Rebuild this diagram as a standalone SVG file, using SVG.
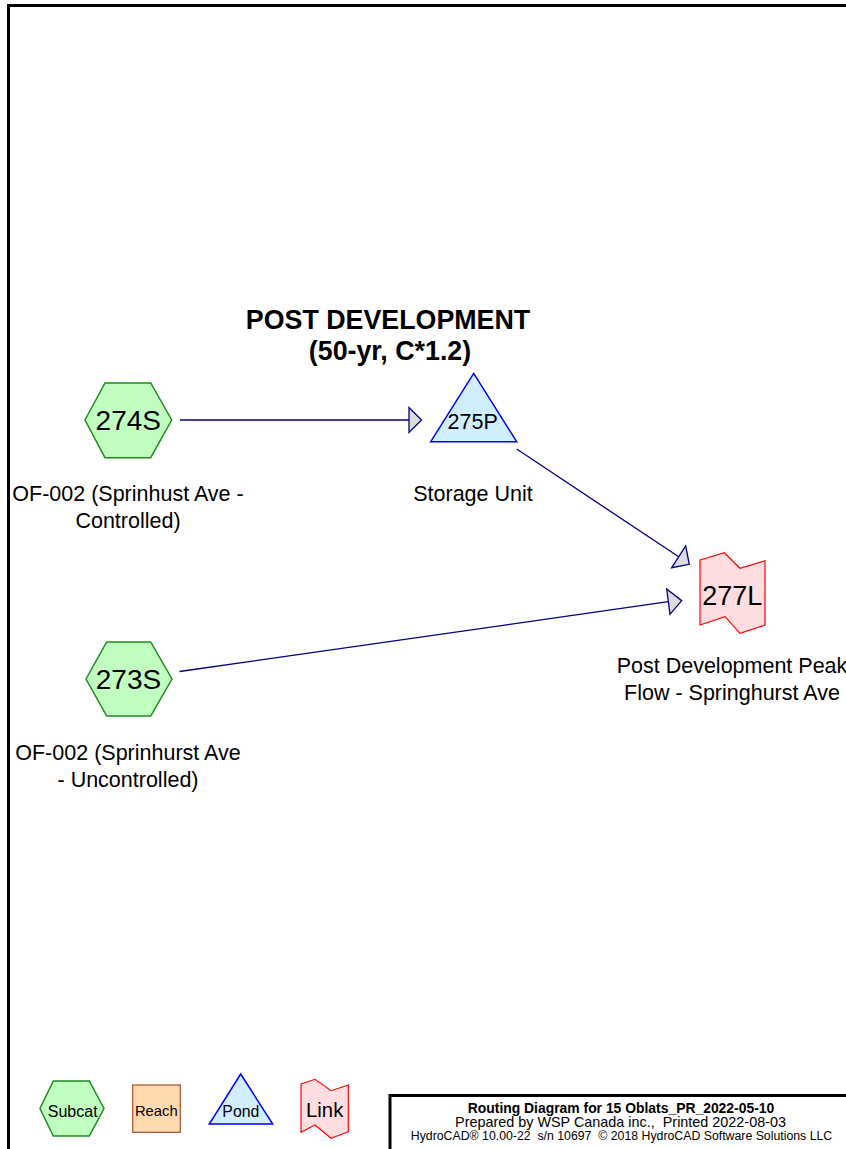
<svg xmlns="http://www.w3.org/2000/svg" width="846" height="1149" viewBox="0 0 846 1149">
<style>
.lbl{font-family:"Liberation Sans",Arial,sans-serif;fill:#000;text-anchor:middle}
.sub{fill:#c0ffc0;stroke:#1c8c1c;stroke-width:1.5}
.pond{fill:#d0eeff;stroke:#0000ff;stroke-width:1.5}
.link{fill:#ffdde0;stroke:#ff0000;stroke-width:1.2}
.reach{fill:#ffd9b0;stroke:#a0522d;stroke-width:1.2}
.edge{stroke:#000080;stroke-width:1.3;fill:none}
.head{fill:#dcdcdc;stroke:#000080;stroke-width:1.3;stroke-linejoin:miter}
</style>
<rect x="0" y="0" width="846" height="1149" fill="#fff"/>
<path d="M8.5,1149 V5.5 H846" fill="none" stroke="#000" stroke-width="3"/>

<g id="title">
<text class="lbl" x="388" y="329" font-size="26.8" font-weight="bold">POST DEVELOPMENT</text>
<text class="lbl" x="390" y="360" font-size="26.8" font-weight="bold">(50-yr, C*1.2)</text>
</g>

<g id="connectors">
<line class="edge" x1="180" y1="420" x2="409" y2="420"/>
<polygon class="head" points="409,407.5 421.5,420 409,432.5"/>
<line class="edge" x1="516.7" y1="449" x2="678.7" y2="556.8"/>
<polygon class="head" points="671.7,567.7 685.7,546 689.3,564.3"/>
<line class="edge" x1="179.5" y1="671.5" x2="668.3" y2="601.7"/>
<polygon class="head" points="666.7,589 681.7,600.7 670,614.3"/>
</g>

<g id="n274S">
<polygon class="sub" points="85,420 105,383 150.7,383 171.7,420 150.7,457.7 105,457.7"/>
<text class="lbl" x="128.3" y="430" font-size="28">274S</text>
<text class="lbl" x="128" y="501" font-size="21.5">OF-002 (Sprinhust Ave -</text>
<text class="lbl" x="128" y="528" font-size="21.5">Controlled)</text>
</g>

<g id="n275P">
<polygon class="pond" points="473.7,373.3 516.7,441.7 430.7,441.7"/>
<text class="lbl" x="472.7" y="428.5" font-size="21.5">275P</text>
<text class="lbl" x="473" y="501" font-size="21.5">Storage Unit</text>
</g>

<g id="n277L">
<polygon class="link" points="700,560 724.3,552.7 740,568.3 765,560.7 765,625 740,633.3 725,616.7 700,625"/>
<text class="lbl" x="732.3" y="605" font-size="27">277L</text>
<text class="lbl" x="732" y="673" font-size="21.5">Post Development Peak</text>
<text class="lbl" x="732" y="700" font-size="21.5">Flow - Springhurst Ave</text>
</g>

<g id="n273S">
<polygon class="sub" points="86,679 106.7,642 150.7,642 172,679 150.7,716 106.7,716"/>
<text class="lbl" x="128.5" y="689" font-size="28">273S</text>
<text class="lbl" x="128" y="760" font-size="21.5">OF-002 (Sprinhurst Ave</text>
<text class="lbl" x="128" y="787" font-size="21.5">- Uncontrolled)</text>
</g>

<g id="legend">
<g id="leg-subcat">
<polygon class="sub" points="40,1108.5 53.3,1081 89.3,1081 104,1108.5 89.3,1136 53.3,1136"/>
<text class="lbl" x="72.7" y="1116.5" font-size="16">Subcat</text>
</g>
<g id="leg-reach">
<rect class="reach" x="132.7" y="1085" width="47.6" height="47.3"/>
<text class="lbl" x="156.3" y="1116" font-size="14.8">Reach</text>
</g>
<g id="leg-pond">
<polygon class="pond" points="240.7,1074 272.7,1124 209.3,1124"/>
<text class="lbl" x="240.8" y="1116.5" font-size="15.8">Pond</text>
</g>
<g id="leg-link">
<polygon class="link" points="301,1084 315,1079.3 331,1090.7 348.3,1085 348.3,1131.7 331,1138.3 315,1125 301,1132.3"/>
<text class="lbl" x="324.7" y="1117" font-size="20.3">Link</text>
</g>
</g>

<g id="titleblock">
<path d="M390,1149 V1095.5 H846" fill="none" stroke="#000" stroke-width="3"/>
<text class="lbl" x="621" y="1112.7" font-size="13.9" font-weight="bold">Routing Diagram for 15 Oblats_PR_2022-05-10</text>
<text class="lbl" x="620.5" y="1126.7" font-size="14.4" xml:space="preserve">Prepared by WSP Canada inc.,  Printed 2022-08-03</text>
<text class="lbl" x="621.5" y="1139.5" font-size="12.3" xml:space="preserve">HydroCAD® 10.00-22  s/n 10697  © 2018 HydroCAD Software Solutions LLC</text>
</g>
</svg>
